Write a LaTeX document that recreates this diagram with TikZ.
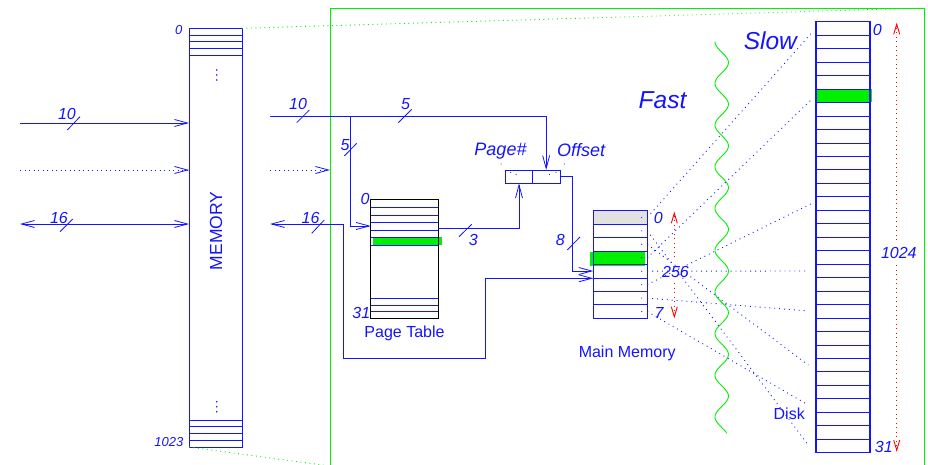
\documentclass[tikz,border=0pt]{standalone}
\usepackage{fontspec}
\setmainfont{Liberation Sans}
\usetikzlibrary{arrows.meta}
\definecolor{lgreen}{RGB}{0,240,0}
\definecolor{lblue}{RGB}{20,20,255}
\definecolor{cellgray}{RGB}{225,225,225}
\tikzset{
  ln/.style={lblue, line width=0.8pt},
  barb/.tip={Straight Barb[length=13pt,width=7pt]},
  redbarb/.tip={Straight Barb[length=10pt,width=6pt]},
  arr/.style={-barb},
  darr/.style={barb-barb},
  dotln/.style={dash pattern=on 0.9pt off 3.6pt},
  mapline/.style={lblue, line width=0.9pt, dash pattern=on 0.9pt off 4pt},
  num/.style={font=\fontsize{16}{18}\selectfont\itshape, text=lblue, inner sep=0},
  smallnum/.style={font=\fontsize{13}{15}\selectfont\itshape, text=lblue, inner sep=0},
  bignum/.style={font=\fontsize{18}{20}\selectfont\itshape, text=lblue, inner sep=0},
  hugelabel/.style={font=\fontsize{24.5}{27}\selectfont\itshape, text=lblue, inner sep=0},
  txt/.style={font=\fontsize{16}{18}\selectfont, text=lblue, inner sep=0},
  boxnode/.style={inner sep=0, outer sep=0, anchor=north west},
}
\begin{document}
\begin{tikzpicture}[x=1pt,y=-1pt]
\useasboundingbox (0,0) rectangle (928,465);

% ---------- green frame ----------
\draw[lgreen, line width=0.9pt] (330,466) -- (330,8) -- (924,8) -- (924,466);

% ---------- left memory ----------
\node[boxnode, draw=lblue, line width=0.8pt, minimum width=53pt, minimum height=418.7pt] (mem) at (189,28.3) {};
\foreach \y in {35,41.7,48.7,55.3,420,426.7,433.3,440} \draw[ln] (189,\y) -- (242,\y);
\foreach \y in {70,75,80,401.7,406.7,411.7} \fill[lblue] (216.7,\y) circle (0.9);
\node[txt, rotate=90, font=\fontsize{17.5}{19}\selectfont] (memlbl) at (216,230.8) {MEMORY};
\node[smallnum] (mem0) at (178.8,30.5) {0};
\node[smallnum] (mem1023) at (168.8,442.3) {1023};

\draw[lgreen, line width=0.9pt, dotln] (mem.north east) -- (924,8);
\draw[lgreen, line width=0.9pt, dotln] (mem.south west) -- (330,466);

% left inputs
\coordinate (ia) at (20,123);
\coordinate (ib) at (20,170);
\coordinate (ic) at (20,224);
\draw[ln, arr] (ia) -- (ia -| mem.west);
\draw[ln, arr, dotln] (ib) -- (ib -| mem.west);
\draw[ln, darr] (ic) -- (ic -| mem.west);
\node[num] (l10a) at (67,114) {10};
\draw[ln] (67.3,130) -- (80,116.7);
\node[num] (l16a) at (59,217.5) {16};
\draw[ln] (60,231.7) -- (72.7,219);

% ---------- page table ----------
\node[boxnode, minimum width=67.6pt, minimum height=119pt] (pt) at (370.7,199.3) {};
\fill[lgreen] (373.3,237.3) rectangle (441.7,245);
\foreach \y in {207.7,215.7,222.7,230,237.3,245,298.3,305,311.7} \draw[ln] (370.7,\y) -- (438.3,\y);
\draw[black, line width=0.8pt] (pt.north west) rectangle (pt.south east);
\node[num] (pt0) at (365,198.7) {0};
\node[num] (pt31) at (361.3,313.3) {31};
\node[txt] (ptlbl) at (404.5,333.5) {Page Table};

% ---------- page#/offset register ----------
\node[boxnode, draw=lblue, line width=0.8pt, minimum width=26.6pt, minimum height=13.5pt] (pgn) at (505.7,170) {};
\node[boxnode, draw=lblue, line width=0.8pt, minimum width=27.7pt, minimum height=13.5pt] (off) at (532.3,170) {};
\foreach \p in {(501,164),(510.7,172.3),(516,174.5),(549.3,174.5),(556,172.3),(564.3,164)} \fill[black] \p circle (0.5);
\node[bignum] (pglbl) at (500.5,150.8) {Page\#};
\node[bignum] (offlbl) at (581.2,150.3) {Offset};

% ---------- main memory ----------
\node[boxnode, minimum width=54pt, minimum height=107.6pt] (mm) at (593.3,210.7) {};
\fill[cellgray] (593.3,210.7) rectangle (647.3,224.15);
\fill[lgreen] (590,251.7) rectangle (645,265.7);
\foreach \k in {1,...,7} \draw[ln] (593.3,{210.7+13.45*\k}) -- (647.3,{210.7+13.45*\k});
\draw[ln] (mm.north west) rectangle (mm.south east);
\foreach \k in {0,...,7} \fill[lblue] (641.7,{217.4+13.45*\k}) circle (0.6);
\node[num] (mm0) at (658.3,218) {0};
\node[num] (mm7) at (659,313.3) {7};
\node[num] (mm256) at (675.5,272) {256};
\node[txt] (mmlbl) at (627.2,353.5) {Main Memory};
\draw[red, line width=0.9pt, dotln, -redbarb] (674.3,257) -- (674.3,211.7);
\draw[red, line width=0.9pt, dotln, -redbarb] (674.3,283) -- (674.3,318.3);

% ---------- disk ----------
\node[boxnode, minimum width=54pt, minimum height=431pt] (disk) at (816,21.7) {};
\fill[lgreen] (816,89.05) rectangle (871.7,102.5);
\foreach \k in {1,...,31} \draw[ln] (816,{21.7+13.469*\k}) -- (870,{21.7+13.469*\k});
\draw[lblue, line width=1.3pt] (disk.north west) rectangle (disk.south east);
\node[num] (d0) at (877.3,29.5) {0};
\node[num] (d31) at (883.8,446.7) {31};
\node[num] (d1024) at (898.8,252.5) {1024};
\node[txt] (disklbl) at (789.2,414.2) {Disk};
\draw[red, line width=0.9pt, dotln, -redbarb] (896.7,240) -- (896.7,22.7);
\draw[red, line width=0.9pt, dotln, -redbarb] (896.7,265) -- (896.7,451.7);

% ---------- fast / slow ----------
\draw[lgreen, line width=0.9pt] plot[domain=0:391.6, samples=400, variable=\t] ({721.7-6.7*cos(8.633*\t)},{41.7+\t});
\node[hugelabel] (fast) at (662.5,100.5) {Fast};
\node[hugelabel] (slow) at (770.3,40.5) {Slow};

% ---------- mapping lines main memory -> disk ----------
\draw[mapline] (647.3,217.4) -- (812.7,31.7);
\draw[mapline] (647.3,230.9) -- (808.3,445);
\draw[mapline] (647.3,244.3) -- (808.3,365);
\draw[mapline] (647.3,257.8) -- (812.7,98.3);
\draw[mapline] (647.3,271.2) -- (808.3,271);
\draw[mapline] (647.3,284.6) -- (812.7,203);
\draw[mapline] (647.3,298.1) -- (808.3,311);
\draw[mapline] (647.3,311.6) -- (808.3,405);

% ---------- right side buses ----------
\coordinate (ra) at (270,116);
\coordinate (rb) at (270,170);
\coordinate (rc) at (270,224);
\coordinate (ta) at (350.7,116);
\coordinate (tb) at (519,228.3);
\draw[ln, arr] (ra) -- (ra -| off.north) -- (off.north);
\draw[ln, arr] (ta) -- (350.7,226) -- (pt.west |- 0,226);
\draw[ln, arr, dotln] (rb) -- (330,170);
\draw[ln, darr] (rc) -- (343.3,224) -- (343.3,358.3) -- (485.7,358.3) -- (485.7,278.3) -- (mm.west |- 0,278.3);
\draw[ln, arr] (pt.east |- tb) -- (tb) -- (tb |- pgn.south);
\draw[ln, arr] (off.east |- 0,176.7) -- (572.7,176.7) -- (572.7,271) -- (mm.west |- 0,271);

\node[num] (l10b) at (298,104) {10};
\draw[ln] (296.7,122.7) -- (309.3,110);
\node[num] (l5a) at (405.5,104) {5};
\draw[ln] (398.3,122.7) -- (411.7,109.3);
\node[num] (l5b) at (345,145) {5};
\draw[ln] (344.3,156) -- (356.7,143.3);
\node[num] (l16b) at (310.5,217.5) {16};
\draw[ln] (311.7,233.3) -- (324.3,220);
\node[num] (l3) at (473.3,239.7) {3};
\draw[ln] (459,236.7) -- (471.7,224.3);
\node[num] (l8) at (560.3,240) {8};
\draw[ln] (567.3,250) -- (580,237);
\end{tikzpicture}
\end{document}
